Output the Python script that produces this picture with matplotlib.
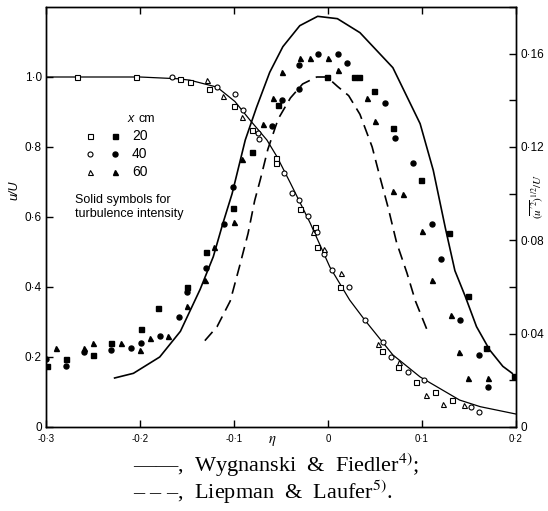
import matplotlib
matplotlib.use("Agg")
import matplotlib.pyplot as plt
from matplotlib.ticker import MultipleLocator

# mean velocity u/U (left axis)
eta_mean_curve = [-0.3, -0.2, -0.16, -0.147, -0.118, -0.099, -0.083, -0.065, -0.054, -0.040,
                  -0.019, 0.002, 0.023, 0.039, 0.069, 0.098, 0.140, 0.162, 0.2]
u_mean_curve = [1.0, 1.0, 0.995, 0.991, 0.971, 0.93, 0.877, 0.82, 0.771, 0.697,
                0.583, 0.457, 0.363, 0.306, 0.206, 0.143, 0.077, 0.058, 0.037]

eta_u20 = [-0.267, -0.204, -0.157, -0.147, -0.127, -0.100, -0.081, -0.055, -0.055, -0.030,
           -0.014, -0.012, 0.013, 0.057, 0.075, 0.094, 0.114, 0.132]
u20 = [1.0, 1.0, 0.994, 0.986, 0.965, 0.917, 0.849, 0.769, 0.754, 0.623,
       0.571, 0.514, 0.40, 0.217, 0.17, 0.129, 0.100, 0.077]
eta_u40 = [-0.166, -0.118, -0.099, -0.090, -0.074, -0.073, -0.047, -0.038, -0.031, -0.021,
           -0.012, -0.004, 0.004, 0.022, 0.039, 0.059, 0.067, 0.085, 0.102, 0.152, 0.161]
u40 = [1.0, 0.971, 0.950, 0.906, 0.840, 0.823, 0.726, 0.669, 0.649, 0.603,
       0.557, 0.494, 0.449, 0.40, 0.306, 0.243, 0.20, 0.157, 0.134, 0.057, 0.043]
eta_u60 = [-0.129, -0.112, -0.091, -0.016, -0.004, 0.014, 0.053, 0.076, 0.104, 0.122, 0.145]
u60 = [0.99, 0.946, 0.887, 0.557, 0.509, 0.44, 0.237, 0.186, 0.091, 0.066, 0.063]

# turbulence intensity (right axis)
eta_wf = [-0.227, -0.207, -0.179, -0.157, -0.136, -0.122, -0.112, -0.102, -0.088, -0.076,
          -0.062, -0.048, -0.030, -0.011, 0.010, 0.034, 0.069, 0.098, 0.112, 0.125,
          0.135, 0.146, 0.158, 0.172, 0.186, 0.196]
int_wf = [0.021, 0.023, 0.030, 0.041, 0.059, 0.073, 0.087, 0.100, 0.123, 0.137,
          0.152, 0.163, 0.172, 0.176, 0.175, 0.169, 0.154, 0.130, 0.110, 0.085,
          0.067, 0.056, 0.043, 0.033, 0.026, 0.023]
eta_ll = [-0.131, -0.118, -0.104, -0.094, -0.085, -0.078, -0.072, -0.064, -0.053, -0.040,
          -0.027, -0.012, -0.001, 0.010, 0.022, 0.034, 0.047, 0.056, 0.064, 0.073,
          0.084, 0.093, 0.106]
int_ll = [0.037, 0.043, 0.054, 0.069, 0.083, 0.097, 0.106, 0.119, 0.132, 0.141,
          0.147, 0.150, 0.150, 0.146, 0.142, 0.134, 0.120, 0.106, 0.094, 0.079,
          0.066, 0.054, 0.041]

eta_i20 = [-0.299, -0.279, -0.250, -0.231, -0.199, -0.181, -0.150, -0.130, -0.101, -0.081,
           -0.053, -0.001, 0.028, 0.033, 0.049, 0.069, 0.099, 0.129, 0.149, 0.168, 0.198]
i20 = [0.026, 0.029, 0.031, 0.036, 0.042, 0.051, 0.060, 0.075, 0.094, 0.118,
       0.138, 0.150, 0.150, 0.150, 0.144, 0.128, 0.106, 0.083, 0.056, 0.034, 0.022]
eta_i40 = [-0.300, -0.279, -0.260, -0.231, -0.210, -0.199, -0.179, -0.159, -0.150, -0.130,
           -0.111, -0.101, -0.060, -0.049, -0.031, -0.031, -0.011, 0.011, 0.020, 0.061,
           0.071, 0.090, 0.111, 0.120, 0.140, 0.161, 0.170]
i40 = [0.029, 0.026, 0.032, 0.033, 0.034, 0.036, 0.039, 0.047, 0.058, 0.068,
       0.087, 0.103, 0.129, 0.140, 0.145, 0.155, 0.160, 0.160, 0.156, 0.139,
       0.124, 0.113, 0.087, 0.072, 0.046, 0.031, 0.017]
eta_i60 = [-0.289, -0.260, -0.250, -0.220, -0.200, -0.189, -0.170, -0.150, -0.131, -0.121,
           -0.100, -0.091, -0.069, -0.059, -0.049, -0.030, -0.019, 0.000, 0.011, 0.041,
           0.050, 0.069, 0.080, 0.100, 0.111, 0.131, 0.139, 0.149, 0.170]
i60 = [0.034, 0.034, 0.036, 0.036, 0.033, 0.038, 0.039, 0.052, 0.063, 0.077,
       0.088, 0.115, 0.130, 0.141, 0.152, 0.158, 0.158, 0.158, 0.153, 0.141,
       0.131, 0.101, 0.100, 0.084, 0.063, 0.048, 0.032, 0.021, 0.021]

x_ticks = [-0.3, -0.2, -0.1, 0.0, 0.1, 0.2]
x_labels = ["-0·3", "-0·2", "-0·1", "0", "0·1", "0·2"]
yl_ticks = [0, 0.2, 0.4, 0.6, 0.8, 1.0]
yl_labels = ["0", "0·2", "0·4", "0·6", "0·8", "1·0"]
yr_ticks = [0, 0.04, 0.08, 0.12, 0.16]
yr_labels = ["0", "0·04", "0·08", "0·12", "0·16"]

plt.rcParams["font.family"] = ["Liberation Sans", "DejaVu Sans"]
plt.rcParams["mathtext.fontset"] = "stix"

fig = plt.figure(figsize=(5.48, 5.11), dpi=100)
ax = fig.add_axes([0.0839, 0.1644, 0.8577, 0.8219])
ax2 = ax.twinx()

ms = 3.6
open_kw = dict(linestyle="none", mfc="white", mec="black", mew=0.8, ms=ms)
fill_kw = dict(linestyle="none", color="black", ms=ms)

ax.plot(eta_mean_curve, u_mean_curve, color="black", lw=0.9, zorder=2)
ax.plot(eta_u20, u20, marker="s", **open_kw, zorder=3)
ax.plot(eta_u40, u40, marker="o", **open_kw, zorder=3)
ax.plot(eta_u60, u60, marker="^", **open_kw, zorder=3)

ax2.plot(eta_wf, int_wf, color="black", lw=1.2)
ax2.plot(eta_ll, int_ll, color="black", lw=1.2, dashes=(7, 4))
ax2.plot(eta_i20, i20, marker="s", **fill_kw)
ax2.plot(eta_i40, i40, marker="o", **fill_kw)
ax2.plot(eta_i60, i60, marker="^", **fill_kw)

ax.set_xlim(-0.3, 0.2)
ax.set_ylim(0, 1.2)
ax2.set_ylim(0, 0.18)

ax.set_xticks(x_ticks)
ax.set_xticklabels(x_labels, fontsize=7)
ax.set_yticks(yl_ticks)
ax.set_yticklabels(yl_labels, fontsize=8.5)
ax2.set_yticks(yr_ticks)
ax2.set_yticklabels(yr_labels, fontsize=8.5)
ax2.yaxis.set_minor_locator(MultipleLocator(0.02))

ax.tick_params(axis="x", direction="in", top=True, length=5, width=1, pad=5)
ax.tick_params(axis="y", direction="in", length=5, width=1, pad=3)
ax2.tick_params(axis="y", which="both", direction="in", length=5, width=1, pad=3)
for a in (ax, ax2):
    for s in a.spines.values():
        s.set_linewidth(1.0)

ax.text(-0.068, 0.564, "u/U", transform=ax.transAxes, rotation=90, fontsize=9,
        style="italic", ha="center", va="center")
ax2.text(1.046, 0.55, r"$(\overline{u'^2})^{1/2}/U$", transform=ax2.transAxes,
         rotation=90, fontsize=8, ha="center", va="center")
ax.text(0.481, -0.034, r"$\eta$", transform=ax.transAxes, fontsize=10.5,
        ha="center", va="center")

# in-plot key
ax.text(0.174, 0.733, "x", transform=ax.transAxes, fontsize=9, style="italic", va="center")
ax.text(0.197, 0.733, "cm", transform=ax.transAxes, fontsize=9, va="center")
key_markers = ["s", "o", "^"]
key_labels = ["20", "40", "60"]
key_rows = [0.693, 0.65, 0.607]
for m, lab, yy in zip(key_markers, key_labels, key_rows):
    ax.plot([0.0936], [yy], marker=m, transform=ax.transAxes, **open_kw)
    ax.plot([0.147], [yy], marker=m, transform=ax.transAxes, **fill_kw)
    ax.text(0.183, yy, lab, transform=ax.transAxes, fontsize=10, va="center")
ax.text(0.062, 0.540, "Solid symbols for", transform=ax.transAxes, fontsize=9, va="center")
ax.text(0.062, 0.508, "turbulence intensity", transform=ax.transAxes, fontsize=9, va="center")

serif = ["Liberation Serif", "DejaVu Serif"]
fig.text(0.243, 1 - 465 / 511, r"——,  Wygnanski  &  Fiedler$^{4)}$;", family=serif,
         fontsize=16, va="center", ha="left")
fig.text(0.243, 1 - 492 / 511, r"– – –,  Liepman  &  Laufer$^{5)}$.", family=serif,
         fontsize=16, va="center", ha="left")

fig.savefig("out.png", dpi=100)
